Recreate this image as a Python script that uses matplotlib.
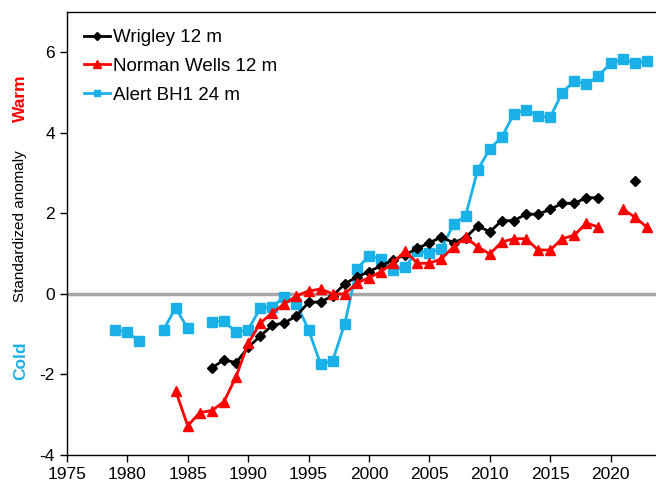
import matplotlib.pyplot as plt
import numpy as np

plt.rcParams['font.family'] = ['Liberation Sans', 'DejaVu Sans']
plt.rcParams['axes.unicode_minus'] = False

# Wrigley 12 m (no data 2020-2021)
wrigley_years = [1987, 1988, 1989, 1990, 1991, 1992, 1993, 1994, 1995, 1996, 1997,
                 1998, 1999, 2000, 2001, 2002, 2003, 2004, 2005, 2006, 2007, 2008,
                 2009, 2010, 2011, 2012, 2013, 2014, 2015, 2016, 2017, 2018, 2019,
                 2020, 2021, 2022]
wrigley_vals = [-1.84, -1.64, -1.71, -1.33, -1.05, -0.78, -0.72, -0.55, -0.21, -0.2, -0.05,
                0.25, 0.42, 0.55, 0.7, 0.84, 0.97, 1.13, 1.27, 1.41, 1.27, 1.4,
                1.69, 1.54, 1.82, 1.82, 1.98, 1.98, 2.1, 2.25, 2.25, 2.39, 2.39,
                np.nan, np.nan, 2.81]

# Norman Wells 12 m (no data 2020)
norman_years = [1984, 1985, 1986, 1987, 1988, 1989, 1990, 1991, 1992, 1993, 1994,
                1995, 1996, 1997, 1998, 1999, 2000, 2001, 2002, 2003, 2004, 2005,
                2006, 2007, 2008, 2009, 2010, 2011, 2012, 2013, 2014, 2015, 2016,
                2017, 2018, 2019, 2020, 2021, 2022, 2023]
norman_vals = [-2.41, -3.28, -2.95, -2.9, -2.68, -2.06, -1.23, -0.73, -0.47, -0.25, -0.05,
               0.07, 0.12, 0.0, 0.0, 0.27, 0.4, 0.55, 0.77, 1.07, 0.76, 0.76,
               0.87, 1.17, 1.41, 1.17, 0.99, 1.29, 1.37, 1.37, 1.09, 1.09, 1.37,
               1.46, 1.76, 1.66, np.nan, 2.11, 1.91, 1.66]

# Alert BH1 24 m (no data 1982, 1986)
alert_years = [1979, 1980, 1981, 1982, 1983, 1984, 1985, 1986, 1987, 1988, 1989,
               1990, 1991, 1992, 1993, 1994, 1995, 1996, 1997, 1998, 1999, 2000,
               2001, 2002, 2003, 2004, 2005, 2006, 2007, 2008, 2009, 2010, 2011,
               2012, 2013, 2014, 2015, 2016, 2017, 2018, 2019, 2020, 2021, 2022, 2023]
alert_vals = [-0.89, -0.95, -1.18, np.nan, -0.89, -0.35, -0.86, np.nan, -0.7, -0.67, -0.96,
              -0.89, -0.36, -0.32, -0.07, -0.25, -0.89, -1.75, -1.66, -0.74, 0.62, 0.95,
              0.87, 0.6, 0.68, 1.06, 1.02, 1.12, 1.73, 1.94, 3.08, 3.6, 3.9,
              4.47, 4.58, 4.42, 4.39, 5.0, 5.29, 5.21, 5.42, 5.73, 5.83, 5.73, 5.79]

blue = '#1ab0e8'

fig = plt.figure(figsize=(6.56, 4.88), dpi=100)
ax = fig.add_axes([0.102, 0.068, 0.898, 0.907])

ax.axhline(0, color='#a6a6a6', lw=2.5, zorder=1)

ax.plot(wrigley_years, wrigley_vals, color='black', marker='D', ms=5.5, lw=2,
        label='Wrigley 12 m', zorder=3)
ax.plot(norman_years, norman_vals, color='#ff0000', marker='^', ms=7.5, lw=2,
        label='Norman Wells 12 m', zorder=3)
ax.plot(alert_years, alert_vals, color=blue, marker='s', ms=6.5, lw=2,
        label='Alert BH1 24 m', zorder=2)

ax.set_xlim(1975, 2023.76)
ax.set_ylim(-4, 7)
ax.set_xticks(np.arange(1975, 2021, 5))
ax.set_yticks(np.arange(-4, 7, 2))
ax.tick_params(labelsize=12.5, direction='out', length=5, width=1)
ax.spines['right'].set_visible(False)
for s in ['left', 'bottom', 'top']:
    ax.spines[s].set_linewidth(1)

ax.legend(loc='upper left', frameon=False, fontsize=13.5, handlelength=1.4,
          handletextpad=0.15, labelspacing=0.62, borderaxespad=0.5,
          borderpad=0.4, markerscale=0.7)

fig.text(0.031, 1 - 226 / 488, 'Standardized anomaly', rotation=90, ha='center',
         va='center', fontsize=11)
fig.text(0.031, 1 - 98 / 488, 'Warm', rotation=90, ha='center', va='center',
         fontsize=12.5, fontweight='bold', color='#ff0000')
fig.text(0.031, 1 - 361 / 488, 'Cold', rotation=90, ha='center', va='center',
         fontsize=12.5, fontweight='bold', color=blue)

fig.savefig('out.png', dpi=100)
